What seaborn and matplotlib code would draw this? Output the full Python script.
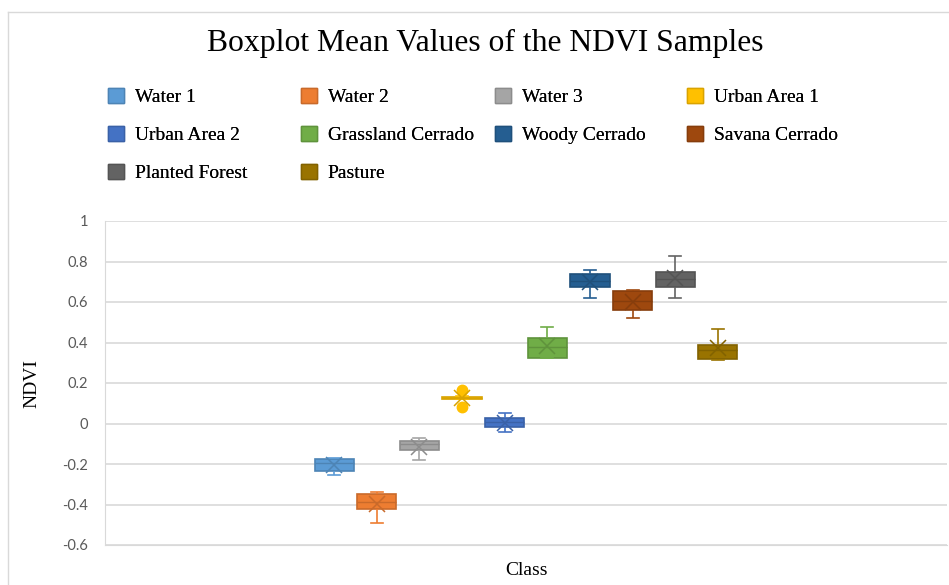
import numpy as np
import pandas as pd
import matplotlib
matplotlib.use("Agg")
import matplotlib.pyplot as plt
import matplotlib.colors as mcolors
from matplotlib.patches import Patch
from matplotlib.lines import Line2D
import seaborn as sns

# classes and colours (Office palette)
classes = ["Water 1", "Water 2", "Water 3", "Urban Area 1", "Urban Area 2",
           "Grassland Cerrado", "Woody Cerrado", "Savana Cerrado",
           "Planted Forest", "Pasture"]
colors = ["#5B9BD5", "#ED7D31", "#A5A5A5", "#FFC000", "#4472C4",
          "#70AD47", "#255E91", "#9E480E", "#636363", "#997300"]

# NDVI sample values (min, q1, median, q3, max; outliers for Urban Area 1)
water1 = [-0.252, -0.237, -0.193, -0.174, -0.170]
water2 = [-0.490, -0.420, -0.390, -0.347, -0.336]
water3 = [-0.178, -0.133, -0.100, -0.087, -0.073]
urban1 = [0.080, 0.119, 0.122, 0.127, 0.131, 0.135, 0.163]
urban2 = [-0.043, -0.018, 0.005, 0.026, 0.054]
grassland = [0.322, 0.324, 0.377, 0.421, 0.476]
woody = [0.620, 0.675, 0.706, 0.737, 0.759]
savana = [0.523, 0.561, 0.604, 0.655, 0.660]
planted = [0.620, 0.675, 0.713, 0.750, 0.825]
pasture = [0.315, 0.319, 0.365, 0.388, 0.467]

samples = [water1, water2, water3, urban1, urban2,
           grassland, woody, savana, planted, pasture]

rows = []
for name, vals in zip(classes, samples):
    for v in vals:
        rows.append({"group": "Class", "cls": name, "ndvi": v})
df = pd.DataFrame(rows)


def darker(c, f=0.8):
    r, g, b = mcolors.to_rgb(c)
    return (r * f, g * f, b * f)


serif = "Liberation Serif"
sans = "Lato"

fig = plt.figure(figsize=(9.49, 5.85), dpi=100)
ax = fig.add_axes([105 / 949, 1 - 545 / 585, 842 / 949, 324 / 585])

sns.boxplot(data=df, x="group", y="ndvi", hue="cls", hue_order=classes,
            palette=colors, saturation=1, width=0.506, gap=0.08, showmeans=True,
            legend=False, ax=ax, linewidth=1.2,
            meanprops={"marker": "x", "markersize": 11, "markeredgewidth": 1.1},
            flierprops={"marker": "o", "markersize": 7.5})

# colour lines per class like Excel, narrow caps
cap_half = 6 / 842
for cont, c in zip(ax.containers, colors):
    dc = darker(c, 0.85)
    for b in cont.boxes:
        b.set_edgecolor(dc)
    for ln in cont.whiskers:
        ln.set_color(c)
    for ln in cont.caps:
        ln.set_color(c)
        xd = np.asarray(ln.get_xdata(), dtype=float)
        xm = xd.mean()
        ln.set_xdata([xm - cap_half, xm + cap_half])
    for ln in cont.medians:
        ln.set_color(dc)
        ln.set_linewidth(1.0)
    for ln in cont.means:
        ln.set_markeredgecolor(dc)
        ln.set_markerfacecolor(dc)
    for ln in cont.fliers:
        ln.set_markerfacecolor(c)
        ln.set_markeredgecolor(c)

ax.set_ylim(-0.6, 1.0)
ax.set_xlim(-0.5, 0.5)
ax.set_yticks(np.arange(-0.6, 1.01, 0.2))
ax.set_yticklabels(["-0.6", "-0.4", "-0.2", "0", "0.2", "0.4", "0.6", "0.8", "1"])
ax.set_xticks([])
ax.grid(axis="y", color="#D9D9D9", linewidth=1.2)
ax.set_axisbelow(True)
for s in ["top", "right"]:
    ax.spines[s].set_visible(False)
ax.spines["left"].set_color("#D9D9D9")
ax.spines["bottom"].set_color("#D9D9D9")
ax.tick_params(axis="y", length=0, pad=12, labelsize=10.5, labelcolor="#595959")
for t in ax.get_yticklabels():
    t.set_fontfamily(sans)

ax.set_xlabel("Class", fontfamily=serif, fontsize=14, color="#000000", labelpad=12)
ax.set_ylabel("NDVI", fontfamily=serif, fontsize=14, color="#000000")
ax.yaxis.set_label_coords(-0.077, 0.5)

fig.text(485 / 949, 1 - 43 / 585, "Boxplot Mean Values of the NDVI Samples",
         ha="center", va="center", fontfamily=serif, fontsize=22.8)

# legend: 4 equal columns, row-major order as in Excel
col_x = [108 / 949, 301 / 949, 495 / 949, 687 / 949]
for j in range(4):
    idx = [i for i in range(j, len(classes), 4)]
    handles = [Patch(facecolor=colors[i], edgecolor=darker(colors[i], 0.85)) for i in idx]
    labels = [classes[i] for i in idx]
    leg = fig.legend(handles, labels, loc="upper left",
                     bbox_to_anchor=(col_x[j], 1 - 88 / 585), frameon=False,
                     borderaxespad=0, borderpad=0, handlelength=0.82,
                     handleheight=0.82, handletextpad=0.55, labelspacing=1.01,
                     prop={"family": serif, "size": 14})
    fig.add_artist(leg)

# chart area border
fig.add_artist(Line2D([8 / 949, 1], [1 - 12 / 585, 1 - 12 / 585], color="#D9D9D9", lw=1))
fig.add_artist(Line2D([8 / 949, 8 / 949], [0, 1 - 12 / 585], color="#D9D9D9", lw=1))

fig.savefig("out.png", dpi=100)
